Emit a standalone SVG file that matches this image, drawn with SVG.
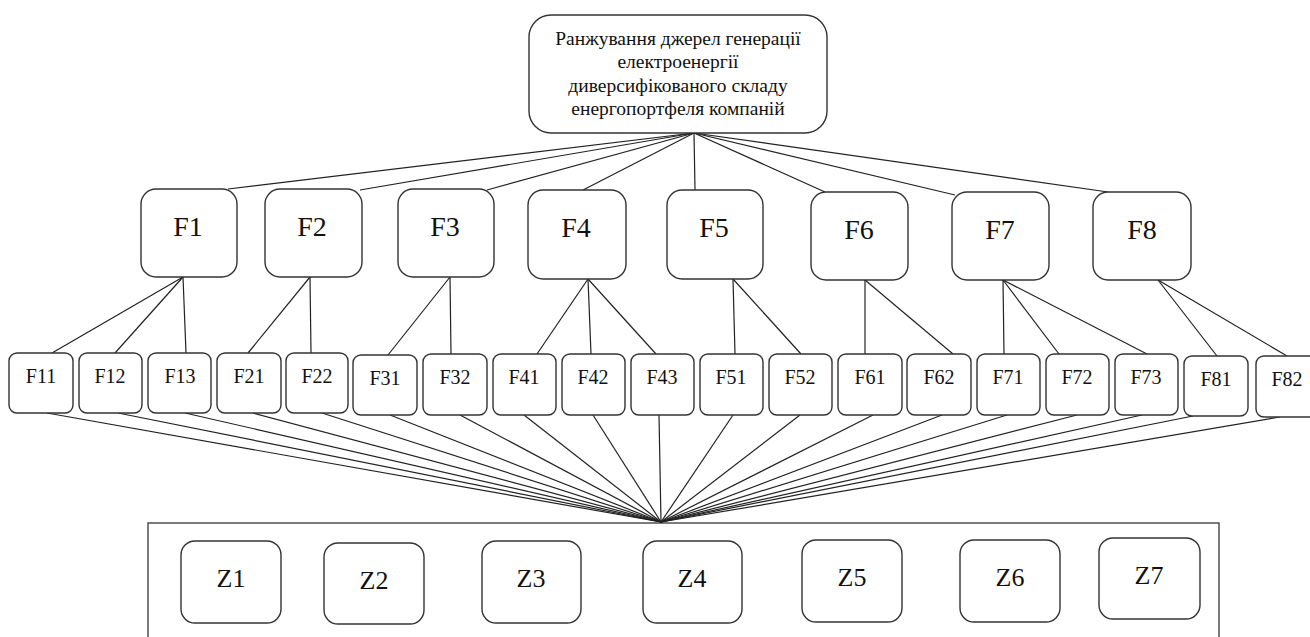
<svg xmlns="http://www.w3.org/2000/svg" width="1310" height="637" viewBox="0 0 1310 637">
<style>
.b{fill:#fff;stroke:#333;stroke-width:1.4}
.t{font-family:'Liberation Serif','Times New Roman','DejaVu Serif',serif;fill:#111;text-anchor:middle}
.tt{font-size:19.5px}
.tf{font-size:28px}
.ts{font-size:20px}
.tz{font-size:26px}
.c line{stroke:#222;stroke-width:1.2}
</style>
<rect width="1310" height="637" fill="#fff"/>
<g id="container"><rect x="148" y="523" width="1071" height="130" fill="none" stroke="#444" stroke-width="1.4"/></g>
<g class="c" id="connectors">
<line x1="694" y1="133" x2="228" y2="189"/>
<line x1="694" y1="133" x2="360" y2="190"/>
<line x1="694" y1="133" x2="487" y2="190"/>
<line x1="694" y1="133" x2="583" y2="190"/>
<line x1="694" y1="133" x2="695" y2="190"/>
<line x1="694" y1="133" x2="825" y2="192"/>
<line x1="694" y1="133" x2="955" y2="195"/>
<line x1="694" y1="133" x2="1108" y2="192"/>
<line x1="183" y1="277" x2="52" y2="353"/>
<line x1="183" y1="277" x2="115" y2="353"/>
<line x1="183" y1="277" x2="186" y2="353"/>
<line x1="310" y1="277" x2="248" y2="353"/>
<line x1="310" y1="277" x2="311" y2="353"/>
<line x1="450" y1="277" x2="388" y2="355"/>
<line x1="450" y1="277" x2="451" y2="354"/>
<line x1="588" y1="279" x2="537" y2="354"/>
<line x1="588" y1="279" x2="591" y2="354"/>
<line x1="588" y1="279" x2="656" y2="354"/>
<line x1="733" y1="279" x2="735" y2="354"/>
<line x1="733" y1="279" x2="801" y2="354"/>
<line x1="865" y1="280" x2="865" y2="354"/>
<line x1="865" y1="280" x2="953" y2="354"/>
<line x1="1003" y1="280" x2="1004" y2="354"/>
<line x1="1003" y1="280" x2="1059" y2="354"/>
<line x1="1003" y1="280" x2="1147" y2="354"/>
<line x1="1158" y1="280" x2="1217" y2="356"/>
<line x1="1158" y1="280" x2="1287" y2="356"/>
<line x1="47" y1="413" x2="661" y2="522"/>
<line x1="118" y1="413" x2="661" y2="522"/>
<line x1="185" y1="413" x2="661" y2="522"/>
<line x1="253" y1="413" x2="661" y2="522"/>
<line x1="322" y1="413" x2="661" y2="522"/>
<line x1="390" y1="415" x2="661" y2="522"/>
<line x1="460" y1="415" x2="661" y2="522"/>
<line x1="524" y1="415" x2="661" y2="522"/>
<line x1="593" y1="415" x2="661" y2="522"/>
<line x1="659" y1="415" x2="661" y2="522"/>
<line x1="733" y1="415" x2="661" y2="522"/>
<line x1="800" y1="415" x2="661" y2="522"/>
<line x1="873" y1="415" x2="661" y2="522"/>
<line x1="942" y1="415" x2="661" y2="522"/>
<line x1="1007" y1="415" x2="661" y2="522"/>
<line x1="1077" y1="415" x2="661" y2="522"/>
<line x1="1142" y1="415" x2="661" y2="522"/>
<line x1="1193" y1="416" x2="661" y2="522"/>
<line x1="1280" y1="417" x2="661" y2="522"/>
</g>
<g id="root"><rect class="b" x="529" y="15" width="298" height="118" rx="22"/>
<text class="t tt" x="678"><tspan x="678" y="45">Ранжування джерел генерації</tspan><tspan x="678" y="68">електроенергії</tspan><tspan x="678" y="92">диверсифікованого складу</tspan><tspan x="678" y="115">енергопортфеля компаній</tspan></text></g>
<g id="F1"><rect class="b" x="141" y="189" width="96" height="88" rx="15"/><text class="t tf" x="188" y="236">F1</text></g>
<g id="F2"><rect class="b" x="265" y="189" width="97" height="88" rx="15"/><text class="t tf" x="312" y="236">F2</text></g>
<g id="F3"><rect class="b" x="398" y="189" width="96" height="88" rx="15"/><text class="t tf" x="445" y="236">F3</text></g>
<g id="F4"><rect class="b" x="528" y="190" width="98" height="89" rx="15"/><text class="t tf" x="576" y="237">F4</text></g>
<g id="F5"><rect class="b" x="667" y="190" width="96" height="89" rx="15"/><text class="t tf" x="714" y="237">F5</text></g>
<g id="F6"><rect class="b" x="811" y="192" width="97" height="88" rx="15"/><text class="t tf" x="859" y="239">F6</text></g>
<g id="F7"><rect class="b" x="952" y="192" width="97" height="88" rx="15"/><text class="t tf" x="1000" y="239">F7</text></g>
<g id="F8"><rect class="b" x="1093" y="192" width="98" height="88" rx="15"/><text class="t tf" x="1142" y="239">F8</text></g>
<g id="F11"><rect class="b" x="9" y="353" width="64" height="60" rx="8"/><text class="t ts" x="41" y="383">F11</text></g>
<g id="F12"><rect class="b" x="79" y="353" width="63" height="60" rx="8"/><text class="t ts" x="110" y="383">F12</text></g>
<g id="F13"><rect class="b" x="148" y="353" width="63" height="60" rx="8"/><text class="t ts" x="180" y="383">F13</text></g>
<g id="F21"><rect class="b" x="217" y="353" width="64" height="60" rx="8"/><text class="t ts" x="249" y="383">F21</text></g>
<g id="F22"><rect class="b" x="286" y="353" width="62" height="60" rx="8"/><text class="t ts" x="317" y="383">F22</text></g>
<g id="F31"><rect class="b" x="353" y="355" width="64" height="60" rx="8"/><text class="t ts" x="385" y="385">F31</text></g>
<g id="F32"><rect class="b" x="423" y="354" width="64" height="61" rx="8"/><text class="t ts" x="455" y="384">F32</text></g>
<g id="F41"><rect class="b" x="493" y="354" width="63" height="61" rx="8"/><text class="t ts" x="524" y="384">F41</text></g>
<g id="F42"><rect class="b" x="562" y="354" width="63" height="61" rx="8"/><text class="t ts" x="593" y="384">F42</text></g>
<g id="F43"><rect class="b" x="631" y="354" width="63" height="61" rx="8"/><text class="t ts" x="662" y="384">F43</text></g>
<g id="F51"><rect class="b" x="700" y="354" width="63" height="61" rx="8"/><text class="t ts" x="731" y="384">F51</text></g>
<g id="F52"><rect class="b" x="769" y="354" width="63" height="61" rx="8"/><text class="t ts" x="800" y="384">F52</text></g>
<g id="F61"><rect class="b" x="838" y="354" width="64" height="61" rx="8"/><text class="t ts" x="870" y="384">F61</text></g>
<g id="F62"><rect class="b" x="907" y="354" width="64" height="61" rx="8"/><text class="t ts" x="939" y="384">F62</text></g>
<g id="F71"><rect class="b" x="977" y="354" width="63" height="61" rx="8"/><text class="t ts" x="1008" y="384">F71</text></g>
<g id="F72"><rect class="b" x="1046" y="354" width="63" height="61" rx="8"/><text class="t ts" x="1077" y="384">F72</text></g>
<g id="F73"><rect class="b" x="1115" y="354" width="63" height="61" rx="8"/><text class="t ts" x="1146" y="384">F73</text></g>
<g id="F81"><rect class="b" x="1184" y="356" width="64" height="60" rx="8"/><text class="t ts" x="1216" y="386">F81</text></g>
<g id="F82"><rect class="b" x="1256" y="356" width="62" height="61" rx="8"/><text class="t ts" x="1287" y="386">F82</text></g>
<g id="Z1"><rect class="b" x="181" y="541" width="100" height="82" rx="14"/><text class="t tz" x="231" y="587">Z1</text></g>
<g id="Z2"><rect class="b" x="324" y="543" width="100" height="81" rx="14"/><text class="t tz" x="374" y="589">Z2</text></g>
<g id="Z3"><rect class="b" x="482" y="541" width="99" height="82" rx="14"/><text class="t tz" x="531" y="587">Z3</text></g>
<g id="Z4"><rect class="b" x="643" y="541" width="99" height="82" rx="14"/><text class="t tz" x="692" y="587">Z4</text></g>
<g id="Z5"><rect class="b" x="802" y="540" width="100" height="82" rx="14"/><text class="t tz" x="852" y="586">Z5</text></g>
<g id="Z6"><rect class="b" x="960" y="540" width="100" height="82" rx="14"/><text class="t tz" x="1010" y="586">Z6</text></g>
<g id="Z7"><rect class="b" x="1099" y="538" width="101" height="81" rx="14"/><text class="t tz" x="1149" y="584">Z7</text></g>
</svg>
